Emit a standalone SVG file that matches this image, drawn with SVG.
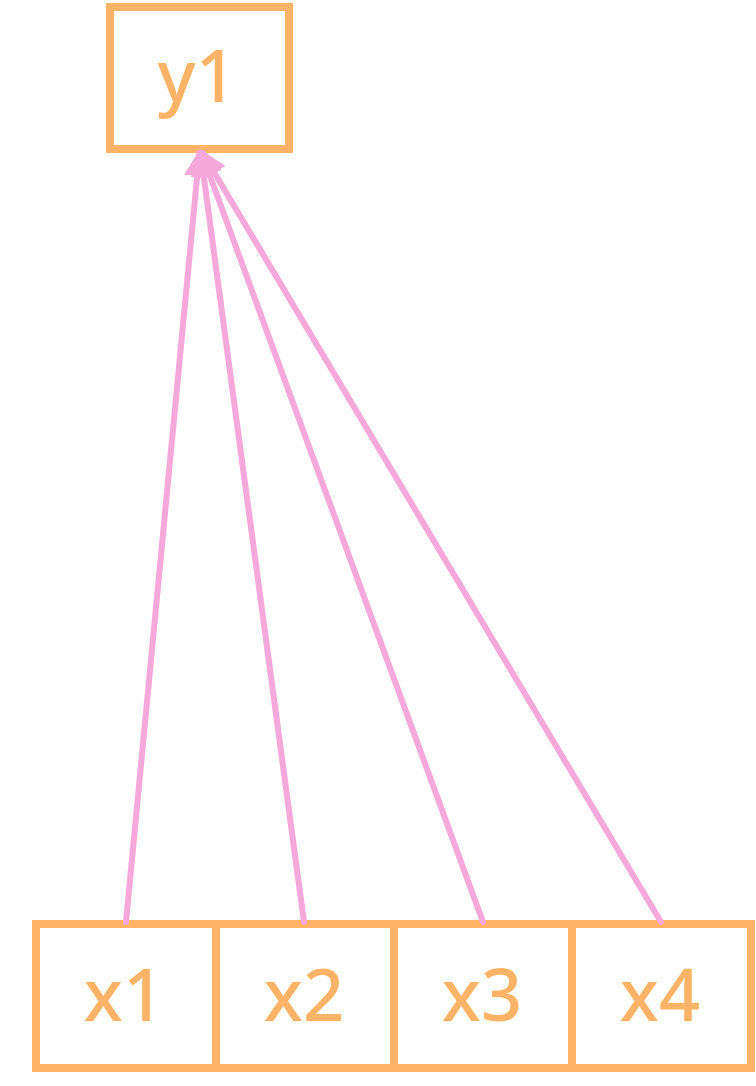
<svg xmlns="http://www.w3.org/2000/svg" width="756" height="1086" viewBox="0 0 756 1086">
<style>
.box{fill:#fff;stroke:#FFB366;stroke-width:8}
.lbl{font-family:"Noto Sans","Open Sans",sans-serif;font-size:72px;font-weight:500;fill:#FFB366;text-anchor:middle}
.edge{stroke:#F6A8DA;stroke-width:6;stroke-linecap:round;fill:none}
</style>
<defs>
<marker id="arr" markerUnits="userSpaceOnUse" markerWidth="30" markerHeight="28" refX="23" refY="13" orient="auto">
<path d="M0,0 L27,13 L0,26 Z" fill="#F6A8DA"/>
</marker>
</defs>
<g id="y1"><rect class="box" x="110" y="7" width="179" height="142"/><text class="lbl" x="197" y="102">y1</text></g>
<g id="x1"><rect class="box" x="36" y="924" width="180" height="144"/><text class="lbl" x="124" y="1021">x1</text></g>
<g id="x2"><rect class="box" x="216" y="924" width="178" height="144"/><text class="lbl" x="304" y="1021">x2</text></g>
<g id="x3"><rect class="box" x="394" y="924" width="178" height="144"/><text class="lbl" x="482" y="1021">x3</text></g>
<g id="x4"><rect class="box" x="572" y="924" width="179" height="144"/><text class="lbl" x="660" y="1021">x4</text></g>
<g id="edges">
<line class="edge" x1="126" y1="922" x2="199.4" y2="153" marker-end="url(#arr)"/>
<line class="edge" x1="304" y1="922" x2="200.6" y2="153" marker-end="url(#arr)"/>
<line class="edge" x1="483" y1="922" x2="201.6" y2="153" marker-end="url(#arr)"/>
<line class="edge" x1="661" y1="922" x2="202.6" y2="153" marker-end="url(#arr)"/>
</g>
</svg>
